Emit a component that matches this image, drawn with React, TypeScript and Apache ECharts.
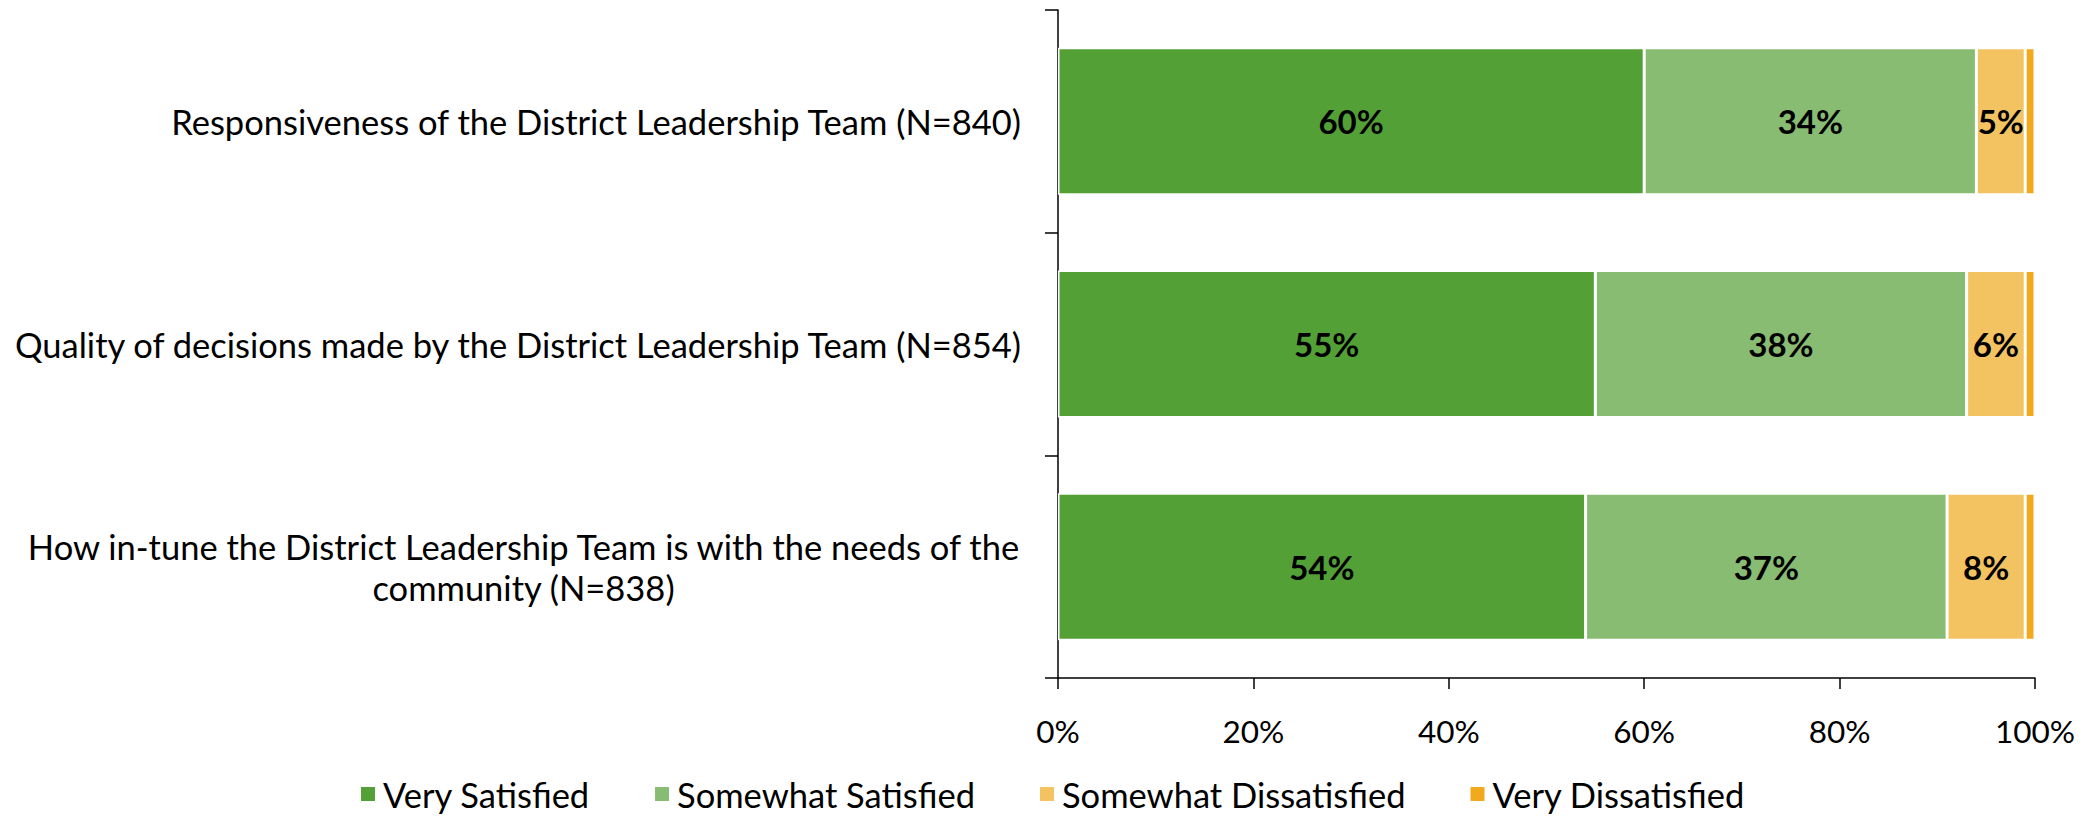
import React, { useEffect, useRef } from "react";
import * as echarts from "echarts";

const categories = [
  "Responsiveness of the District Leadership Team (N=840)",
  "Quality of decisions made by the District Leadership Team (N=854)",
  "How in-tune the District Leadership Team is with the needs of the\ncommunity (N=838)",
];
const seriesNames = ["Very Satisfied", "Somewhat Satisfied", "Somewhat Dissatisfied", "Very Dissatisfied"];
const verySatisfied = [60, 55, 54];
const somewhatSatisfied = [34, 38, 37];
const somewhatDissatisfied = [5, 6, 8];
const veryDissatisfied = [1, 1, 1];
const xTicks = [0, 20, 40, 60, 80, 100];
const colors = ["#53A136", "#88BC73", "#F4C361", "#F1A91D"];

const FONT = "Lato, 'Open Sans', sans-serif";

export default function App() {
  const ref = useRef<HTMLDivElement>(null);
  useEffect(() => {
    if (!ref.current) return;
    const chart = echarts.init(ref.current, null, { renderer: "svg" });
    const values = [verySatisfied, somewhatSatisfied, somewhatDissatisfied, veryDissatisfied];
    chart.setOption({
      animation: false,
      textStyle: { fontFamily: FONT },
      grid: { left: 1058, right: 57, top: 10, bottom: 139, containLabel: false },
      legend: {
        data: seriesNames,
        left: 354,
        top: 771,
        itemWidth: 16,
        itemHeight: 16,
        itemGap: 63,
        icon: "rect",
        textStyle: { fontFamily: FONT, fontSize: 34.5, color: "#000", lineHeight: 36, padding: [0, 0, 0, 2] },
      },
      xAxis: {
        type: "value",
        min: 0,
        max: xTicks[xTicks.length - 1],
        interval: 20,
        axisLine: { show: true, lineStyle: { color: "#000", width: 1.5 } },
        axisTick: { show: true, length: 11, lineStyle: { color: "#000", width: 1.5 } },
        splitLine: { show: false },
        axisLabel: {
          formatter: (v: number) => `${v}%`,
          fontFamily: FONT,
          fontSize: 31.5,
          color: "#000",
          margin: 37,
        },
      },
      yAxis: {
        type: "category",
        inverse: true,
        data: categories,
        axisLine: { show: true, lineStyle: { color: "#000", width: 1.5 } },
        axisTick: { show: true, length: 13, lineStyle: { color: "#000", width: 1.5 } },
        axisLabel: {
          fontFamily: FONT,
          fontSize: 34.5,
          color: "#000",
          margin: 37,
          formatter: (v: string) =>
            v.includes("\n")
              ? v
                  .split("\n")
                  .map((l) => `{c|${l}}`)
                  .join("\n")
              : v,
          rich: {
            c: { width: 995, align: "center", fontFamily: FONT, fontSize: 34.5, color: "#000", lineHeight: 41 },
          },
        },
      },
      series: seriesNames.map((name, i) => ({
        name,
        type: "bar",
        stack: "total",
        barCategoryGap: "34%",
        data: values[i],
        itemStyle: { color: colors[i], borderColor: "#fff", borderWidth: 1.5 },
        label: {
          show: i < 3,
          position: "inside",
          formatter: "{c}%",
          fontFamily: FONT,
          fontSize: 33,
          fontWeight: "bold",
          color: "#000",
        },
      })),
    });
    return () => chart.dispose();
  }, []);
  return (
    <div
      ref={ref}
      style={{ position: "fixed", left: 0, top: 0, width: 2092, height: 817, background: "#fff" }}
    />
  );
}
